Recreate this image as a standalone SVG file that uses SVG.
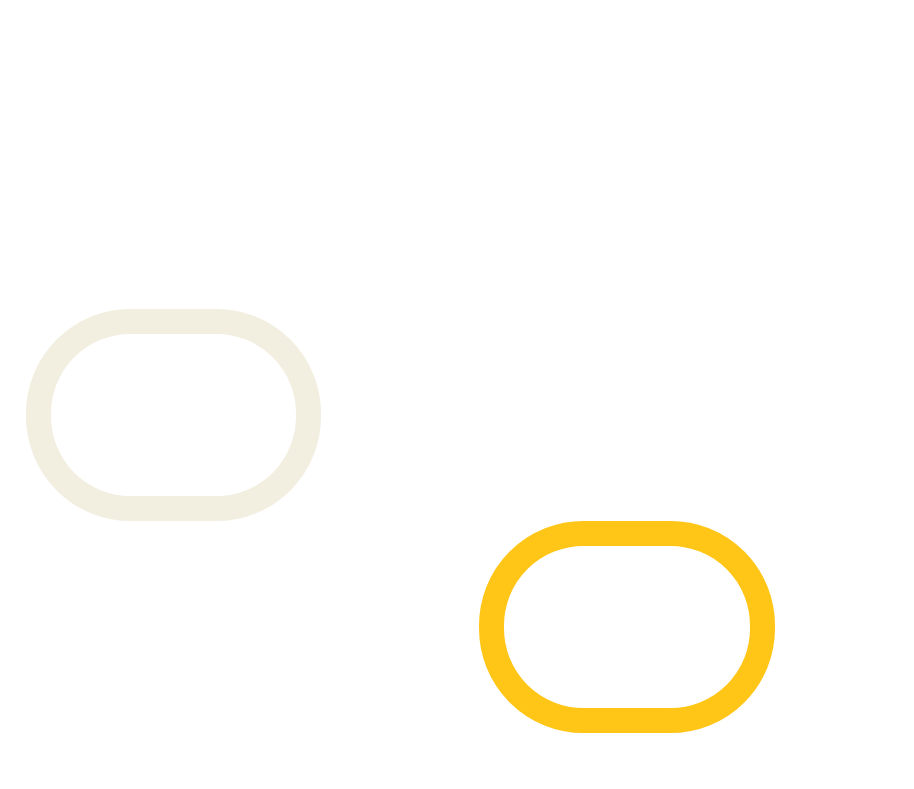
<svg xmlns="http://www.w3.org/2000/svg" width="914" height="789" viewBox="0 0 914 789">
<style>.n{fill:none;stroke-width:25}</style>
<rect width="914" height="789" fill="#fff"/>
<g id="node1"><rect class="n" x="38.5" y="321.5" width="270" height="187" rx="92" ry="92" stroke="#F2EEE0"/></g>
<g id="node2"><rect class="n" x="491.5" y="533.5" width="271" height="187" rx="92" ry="92" stroke="#FFC517"/></g>
<g id="connectors"></g>
</svg>
